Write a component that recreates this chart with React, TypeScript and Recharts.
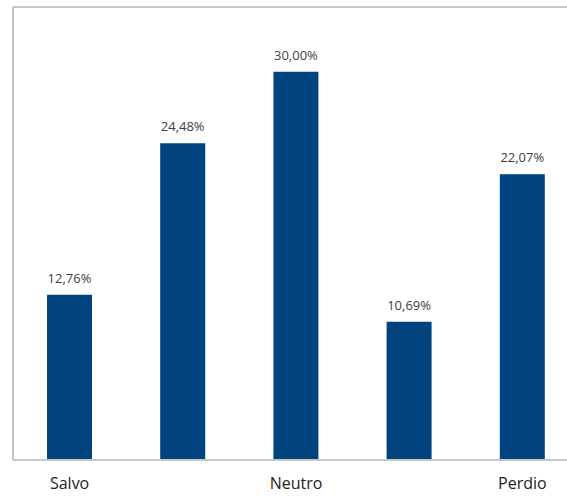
import React from 'react';
import { BarChart, Bar, XAxis, YAxis, LabelList } from 'recharts';

const categories = ['Salvo', ' ', 'Neutro', '  ', 'Perdio'];
const shares = [12.76, 24.48, 30.0, 10.69, 22.07];

const data = categories.map((name, i) => ({ name, value: shares[i] }));

const fmt = (v: number) => v.toFixed(2).replace('.', ',') + '%';

export default function App() {
    return (
        <div style={{ position: 'fixed', left: 0, top: 0, width: 567, height: 497, overflow: 'hidden', background: '#fff' }}>
            <BarChart
                width={640}
                height={497}
                data={data}
                margin={{ top: 6, right: 61, left: 12, bottom: 0 }}
            >
                <XAxis
                    xAxisId="top"
                    orientation="top"
                    dataKey="name"
                    height={1}
                    tick={false}
                    tickLine={false}
                    axisLine={{ stroke: '#c6c6c6', strokeWidth: 2 }}
                />
                <XAxis
                    dataKey="name"
                    height={37}
                    tickLine={false}
                    tickSize={0}
                    tickMargin={18}
                    interval={0}
                    axisLine={{ stroke: '#c6c6c6', strokeWidth: 2 }}
                    tick={{ fill: '#222', fontSize: 16, fontFamily: 'Open Sans' }}
                />
                <YAxis
                    width={1}
                    domain={[0, 35]}
                    tick={false}
                    tickLine={false}
                    axisLine={{ stroke: '#c6c6c6', strokeWidth: 2 }}
                />
                <Bar dataKey="value" fill="#01437f" barSize={45} isAnimationActive={false}>
                    <LabelList
                        dataKey="value"
                        position="top"
                        offset={12}
                        formatter={(v: any) => fmt(Number(v))}
                        style={{ fill: '#404040', fontSize: 13, fontFamily: 'Open Sans' }}
                    />
                </Bar>
            </BarChart>
        </div>
    );
}
